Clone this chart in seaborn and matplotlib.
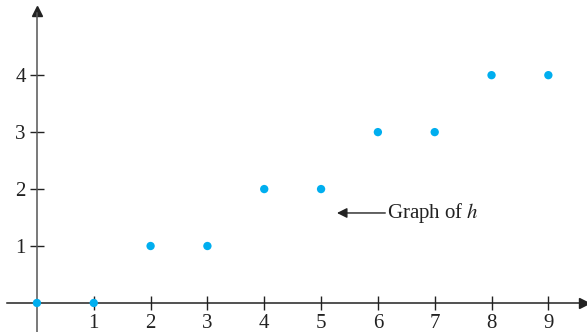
import numpy as np
import pandas as pd
import matplotlib
matplotlib.use("Agg")
import matplotlib.pyplot as plt
import seaborn as sns

x_vals = [0, 1, 2, 3, 4, 5, 6, 7, 8, 9]
h_vals = [0, 0, 1, 1, 2, 2, 3, 3, 4, 4]
x_ticks = [1, 2, 3, 4, 5, 6, 7, 8, 9]
y_ticks = [1, 2, 3, 4]

df = pd.DataFrame({"x": x_vals, "h": h_vals})

sns.set_style("white")
plt.rcParams['font.family'] = ['Liberation Serif', 'DejaVu Serif']
plt.rcParams['mathtext.fontset'] = 'stix'

fig = plt.figure(figsize=(5.87, 3.32), dpi=100)
ax = fig.add_axes([0, 0, 1, 1])

sns.scatterplot(data=df, x="x", y="h", ax=ax, color="#00aeef", s=36,
                edgecolor="none", zorder=5, clip_on=False)

ax.set_xlim(-0.65, 9.68)
ax.set_ylim(-0.51, 5.32)

for s in ["top", "right"]:
    ax.spines[s].set_visible(False)
ax.spines["left"].set_position(("data", 0))
ax.spines["bottom"].set_position(("data", 0))
ax.spines["left"].set_color("#555555")
ax.spines["bottom"].set_color("#222222")
ax.spines["left"].set_bounds(-0.51, 5.1)
ax.spines["bottom"].set_bounds(-0.52, 9.6)
ax.spines["left"].set_linewidth(1.1)
ax.spines["bottom"].set_linewidth(1.1)

# arrow heads
ax.plot(9.62, 0, marker=">", color="#222222", markersize=7, clip_on=False)
ax.plot(0, 5.12, marker="^", color="#222222", markersize=7, clip_on=False)

ax.set_xticks(x_ticks)
ax.set_yticks(y_ticks)
ax.tick_params(axis="both", direction="inout", length=10, width=1.0,
               labelsize=15, colors="#222222", bottom=True, left=True)
ax.tick_params(axis="x", pad=3)
ax.tick_params(axis="y", pad=3)
ax.set_xlabel("")
ax.set_ylabel("")

ax.annotate("", xy=(5.28, 1.58), xytext=(6.13, 1.58),
            arrowprops=dict(arrowstyle="-|>", color="#222222", lw=1.0,
                            mutation_scale=15, shrinkA=0, shrinkB=0))
ax.text(6.16, 1.58, "Graph of $h$", fontsize=15, va="center", ha="left",
        color="#222222")

fig.savefig("out.png", dpi=100)
